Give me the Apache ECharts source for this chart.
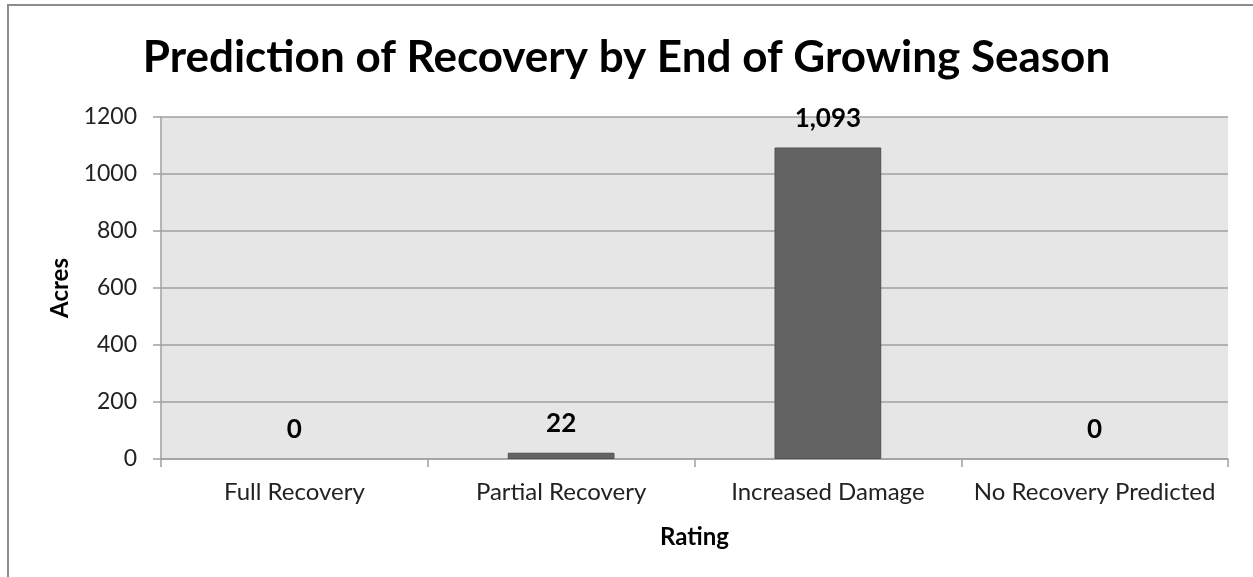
<!DOCTYPE html>
<html>
<head>
<meta charset="utf-8">
<script src="https://cdn.jsdelivr.net/npm/echarts@6/dist/echarts.min.js"></script>
<style>html,body{margin:0;padding:0;background:#fff}#c{width:1253px;height:577px}</style>
</head>
<body>
<div id="c"></div>
<script>
var categories = ['Full Recovery', 'Partial Recovery', 'Increased Damage', 'No Recovery Predicted'];
var acres = [0, 22, 1093, 0];
var yTicks = [0, 200, 400, 600, 800, 1000, 1200];

var FONT = 'Lato';
var chart = echarts.init(document.getElementById('c'), null, {renderer: 'canvas'});
chart.setOption({
  backgroundColor: '#ffffff',
  animation: false,
  title: {
    text: 'Prediction of Recovery by End of Growing Season',
    left: 'center',
    top: 31,
    textStyle: {fontFamily: FONT, fontWeight: 'bold', fontSize: 44, color: '#000'}
  },
  graphic: [{
    type: 'rect', silent: true, z: -1,
    shape: {x: 8, y: 5, width: 1400, height: 800},
    style: {fill: 'none', stroke: '#8c8c8c', lineWidth: 2}
  }],
  grid: {left: 161, right: 25, top: 117, bottom: 118, show: true, backgroundColor: '#e6e6e6', borderWidth: 0},
  xAxis: {
    type: 'category',
    data: categories,
    name: 'Rating',
    nameLocation: 'middle',
    nameGap: 66,
    nameTextStyle: {fontFamily: FONT, fontWeight: 'bold', fontSize: 24, color: '#000'},
    axisLine: {show: true, lineStyle: {color: '#a0a0a0', width: 1.5}},
    axisTick: {show: true, alignWithLabel: false, length: 8, lineStyle: {color: '#a0a0a0', width: 1.5}},
    axisLabel: {fontFamily: FONT, fontSize: 24, color: '#222', margin: 21, interval: 0}
  },
  yAxis: {
    type: 'value',
    min: 0, max: 1200, interval: 200,
    name: 'Acres',
    nameLocation: 'middle',
    nameRotate: 90,
    nameGap: 89,
    nameTextStyle: {fontFamily: FONT, fontWeight: 'bold', fontSize: 24, color: '#000'},
    axisLine: {show: true, lineStyle: {color: '#a0a0a0', width: 1.5}},
    axisTick: {show: true, length: 8, lineStyle: {color: '#a0a0a0', width: 1.5}},
    splitLine: {show: true, lineStyle: {color: '#a0a0a0', width: 1.5}},
    axisLabel: {
      fontFamily: FONT, fontSize: 23, color: '#222', margin: 24,
      formatter: function (v) { return yTicks.indexOf(v) >= 0 ? String(v) : ''; }
    }
  },
  series: [{
    type: 'bar',
    data: acres.map(function (v) {
      return {value: v, itemStyle: {borderWidth: v > 0 ? 1 : 0}};
    }),
    barWidth: '40%',
    itemStyle: {color: '#636363', borderColor: '#505050', borderWidth: 1},
    label: {
      show: true, position: 'top', distance: 16,
      fontFamily: FONT, fontWeight: 'bold', fontSize: 26, color: '#000',
      formatter: function (p) { return p.value.toLocaleString('en-US'); }
    }
  }]
});
</script>
</body>
</html>
